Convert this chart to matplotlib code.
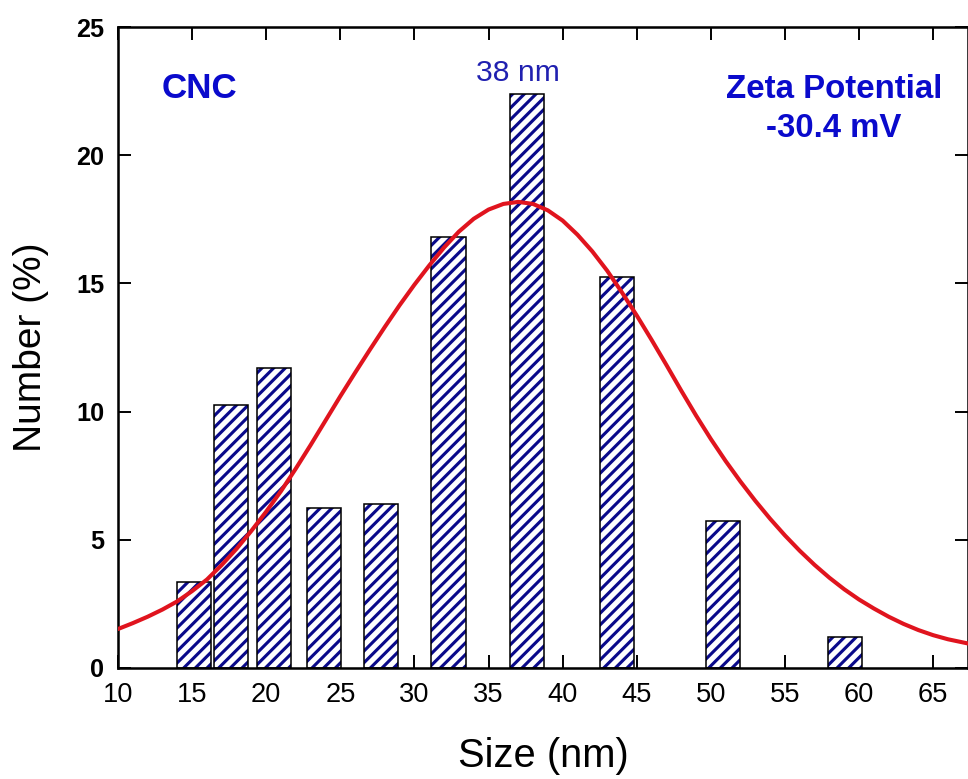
import matplotlib
matplotlib.use("Agg")
import matplotlib.pyplot as plt

# Histogram bars (size in nm, number %)
size_centers = [15.15, 17.65, 20.55, 23.9, 27.75, 32.3, 37.6, 43.65, 50.8, 59.05]
number_pct = [3.35, 10.25, 11.7, 6.24, 6.4, 16.8, 22.4, 15.25, 5.74, 1.2]
bar_width = 2.3

# Fitted curve, points
fit_x = [10, 11, 12, 13, 14, 15, 16, 17, 18, 19, 20, 21, 22, 23, 24, 25, 26,
         27, 28, 29, 30, 31, 32, 33, 34, 35, 36, 37, 38, 39, 40, 41, 42, 43,
         44, 45, 46, 47, 48, 49, 50, 51, 52, 53, 54, 55, 56, 57, 58, 59, 60,
         61, 62, 63, 64, 65, 66, 67.4]
fit_y = [1.52, 1.75, 2.0, 2.28, 2.6, 3.0, 3.45, 4.02, 4.65, 5.35, 6.1, 6.9,
         7.78, 8.7, 9.65, 10.6, 11.52, 12.42, 13.3, 14.15, 14.95, 15.7, 16.4,
         17.02, 17.52, 17.88, 18.1, 18.18, 18.1, 17.85, 17.45, 16.9, 16.25,
         15.5, 14.65, 13.75, 12.8, 11.82, 10.82, 9.85, 8.93, 8.07, 7.27, 6.52,
         5.82, 5.17, 4.57, 4.02, 3.52, 3.07, 2.67, 2.32, 2.0, 1.72, 1.48, 1.28,
         1.12, 0.95]

xticks = [10, 15, 20, 25, 30, 35, 40, 45, 50, 55, 60, 65]
yticks = [0, 5, 10, 15, 20, 25]

plt.rcParams['font.family'] = ['Liberation Sans', 'DejaVu Sans']
plt.rcParams['hatch.linewidth'] = 1.6

fig = plt.figure(figsize=(968 / 140, 779 / 140), dpi=140)
ax = fig.add_axes([0.1219, 0.1425, 1.0 - 0.1219, 0.9653 - 0.1425])

# hatch layer then outline
ax.bar(size_centers, number_pct, width=bar_width, color="white",
       edgecolor="#0a0a8a", hatch="////", linewidth=0, zorder=2)
ax.bar(size_centers, number_pct, width=bar_width, fill=False,
       edgecolor="black", linewidth=0.8, zorder=3)

ax.plot(fit_x, fit_y, color="#e0141e", linewidth=2.1, zorder=4,
        solid_capstyle="round", solid_joinstyle="round")

ax.set_xlim(10, 67.35)
ax.set_ylim(0, 25)
ax.set_xticks(xticks)
ax.set_yticks(yticks)
ax.tick_params(direction="in", length=6.7, width=1.0, top=True, right=True,
               labeltop=False, labelright=False)
ax.tick_params(axis="x", labelsize=14, pad=7)
ax.tick_params(axis="y", labelsize=13, pad=7)
for lab in ax.get_yticklabels():
    lab.set_fontweight("bold")
for sp in ax.spines.values():
    sp.set_linewidth(1.3)

ax.set_xlabel("Size (nm)", fontsize=20.5, labelpad=15)
ax.set_ylabel("Number (%)", fontsize=20, labelpad=14)

ax.text(15.5, 22.6, "CNC", color="#0a0acc", fontsize=18, fontweight="bold",
        ha="center", va="center")
ax.text(37.0, 23.2, "38 nm", color="#2020b0", fontsize=15.5,
        ha="center", va="center")
ax.text(58.3, 21.8, "Zeta Potential\n-30.4 mV", color="#0a0acc", fontsize=17,
        fontweight="bold", ha="center", va="center", linespacing=1.3)

fig.savefig("out.png", dpi=140)
plt.close(fig)
